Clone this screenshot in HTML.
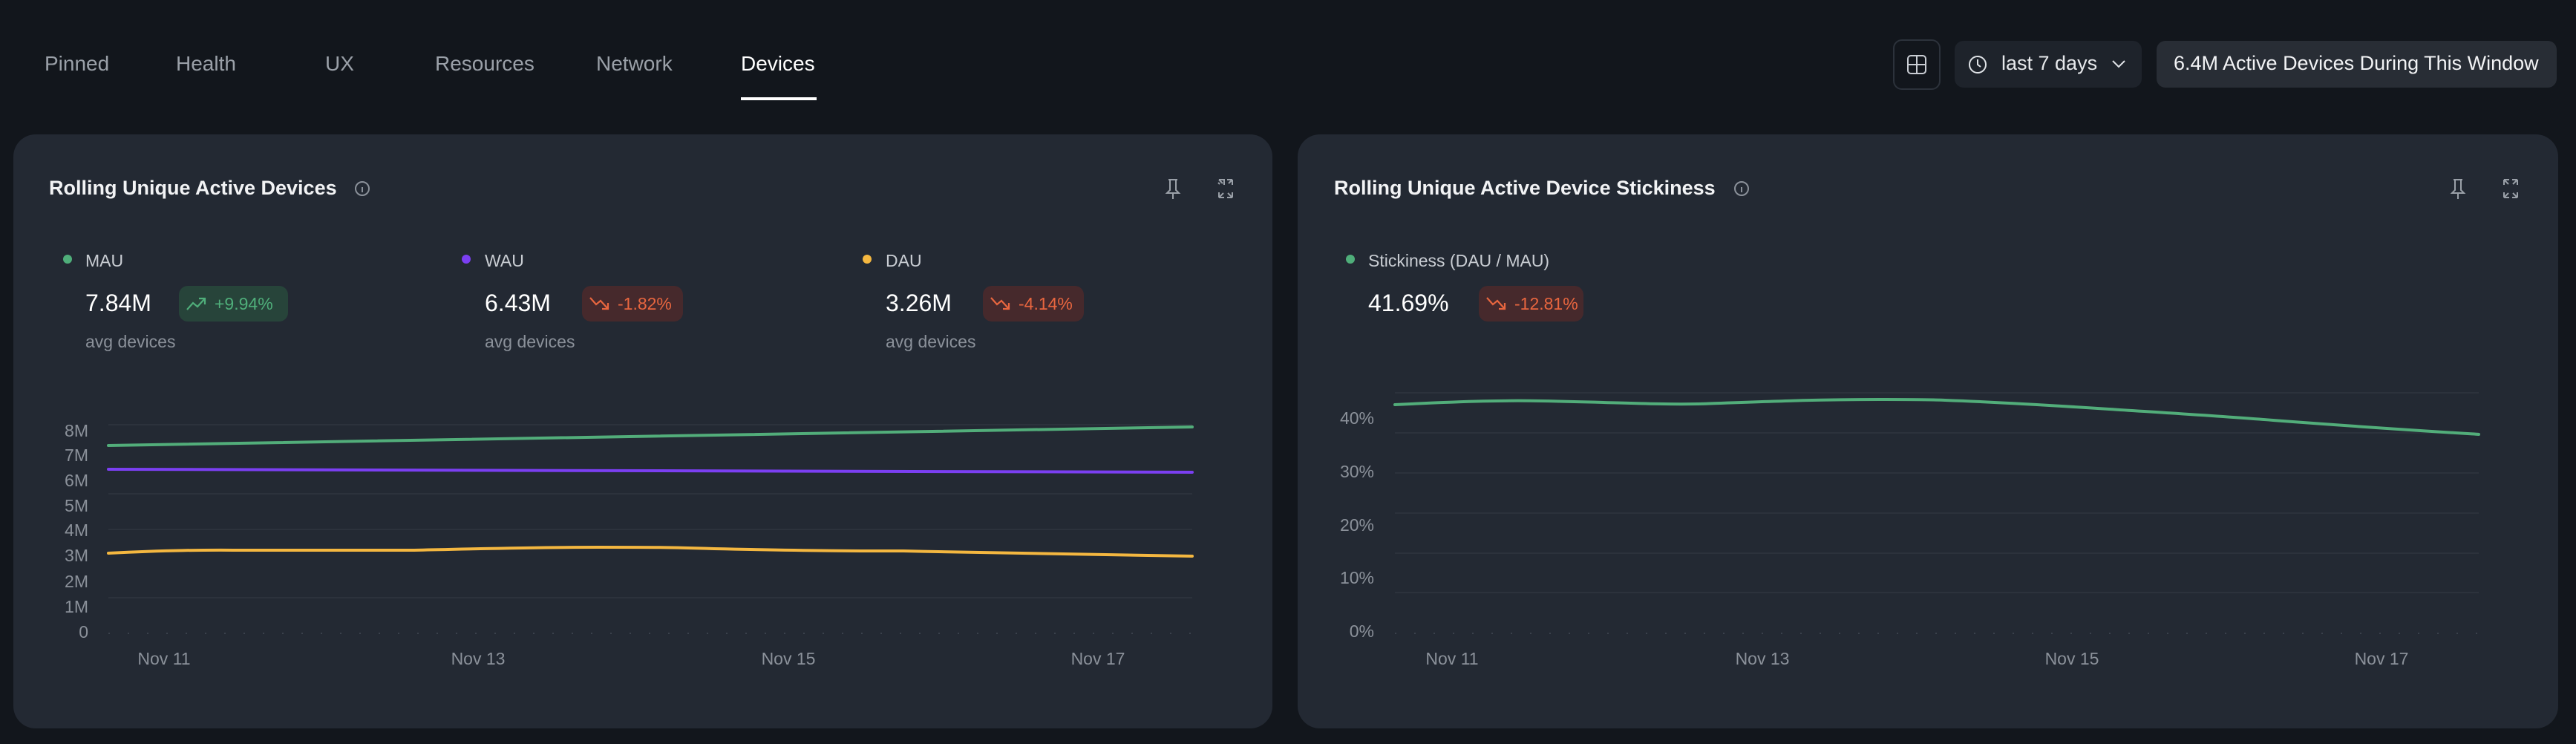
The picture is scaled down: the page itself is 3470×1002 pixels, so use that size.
<!DOCTYPE html>
<html><head><meta charset="utf-8"><style>
*{margin:0;padding:0;box-sizing:border-box}
body{width:3470px;height:1002px;background:#12161c;font-family:"Liberation Sans",sans-serif;position:relative;overflow:hidden;color:#fff}
.a{position:absolute;white-space:nowrap}
.tab{font-size:28px;color:#9aa0a8;top:70px}
.card{position:absolute;top:181px;height:800px;background:#232933;border-radius:30px}
.title{font-size:27px;font-weight:bold;color:#f2f3f5;top:238px}
.lg{font-size:23px;color:#c9cdd3;top:338px}
.dot{position:absolute;width:12px;height:12px;border-radius:50%;top:343px}
.val{font-size:32px;color:#fff;top:390px}
.sub{font-size:23px;color:#8b919a;top:447px}
.badge{position:absolute;top:385px;height:48px;border-radius:12px;font-size:23px;line-height:48px;padding-left:48px}
.g{background:#27443a;color:#4fae7a}
.r{background:#46292c;color:#e8663f}
.btn{position:absolute;border-radius:12px}
</style></head><body>
<div class="a tab" style="left:60px">Pinned</div>
<div class="a tab" style="left:237px">Health</div>
<div class="a tab" style="left:438px">UX</div>
<div class="a tab" style="left:586px">Resources</div>
<div class="a tab" style="left:803px">Network</div>
<div class="a tab" style="left:998px;color:#fff">Devices</div>
<div class="a" style="left:998px;top:131px;width:102px;height:4px;background:#fff"></div>

<div class="btn" style="left:2550px;top:53px;width:64px;height:68px;border:2px solid #2c323b"></div>
<svg class="a" style="left:2568px;top:73px" width="28" height="28"><rect x="2" y="2" width="24" height="24" rx="4" fill="none" stroke="#c9cdd3" stroke-width="2"/><line x1="14" y1="2" x2="14" y2="26" stroke="#c9cdd3" stroke-width="2"/><line x1="2" y1="14" x2="26" y2="14" stroke="#c9cdd3" stroke-width="2"/></svg>
<div class="btn" style="left:2633px;top:55px;width:252px;height:63px;background:#1e232b"></div>
<svg class="a" style="left:2650px;top:73px" width="28" height="28"><circle cx="14" cy="14" r="11" fill="none" stroke="#e0e3e7" stroke-width="2"/><path d="M14 7v7l4 3" fill="none" stroke="#e0e3e7" stroke-width="2"/></svg>
<div class="a" style="left:2696px;top:70px;font-size:27px;color:#e6e8eb">last 7 days</div>
<svg class="a" style="left:2843px;top:78px" width="22" height="16"><path d="M3 4l8 8 8-8" fill="none" stroke="#e0e3e7" stroke-width="2"/></svg>
<div class="btn" style="left:2905px;top:55px;width:539px;height:63px;background:#282d35"></div>
<div class="a" style="left:2928px;top:70px;font-size:27px;color:#f2f3f5">6.4M Active Devices During This Window</div>

<div class="card" style="left:18px;width:1696px"></div>
<div class="card" style="left:1748px;width:1698px"></div>

<div class="a title" style="left:66px">Rolling Unique Active Devices</div>
<div class="a title" style="left:1797px">Rolling Unique Active Device Stickiness</div>
<svg class="a" style="left:477px;top:243px" width="22" height="22"><circle cx="11" cy="11" r="9" fill="none" stroke="#8b919a" stroke-width="2"/><line x1="11" y1="9" x2="11" y2="16" stroke="#8b919a" stroke-width="2"/></svg>
<svg class="a" style="left:2335px;top:243px" width="22" height="22"><circle cx="11" cy="11" r="9" fill="none" stroke="#8b919a" stroke-width="2"/><line x1="11" y1="9" x2="11" y2="16" stroke="#8b919a" stroke-width="2"/></svg>
<svg class="a" style="left:1565px;top:238px" width="110" height="32"><g fill="none" stroke="#9aa0a8" stroke-width="2"><path d="M9 4h12M11 4v14l-4 4h16l-4-4V4M15 22v8"/><path d="M77 4h7v7M78 10l-2-2M77 4l5 5M95 4h-7M90 9l5-5M95 4v7M77 28h7M77 28v-7M77 28l6-6M95 28h-7M95 28v-7M95 28l-6-6"/></g></svg>
<svg class="a" style="left:3296px;top:238px" width="110" height="32"><g fill="none" stroke="#9aa0a8" stroke-width="2"><path d="M9 4h12M11 4v14l-4 4h16l-4-4V4M15 22v8"/><path d="M77 4h7M77 4v7M77 4l6 6M95 4h-7M95 4v7M95 4l-6 6M77 28h7M77 28v-7M77 28l6-6M95 28h-7M95 28v-7M95 28l-6-6"/></g></svg>

<div class="dot" style="left:85px;background:#4fae7a"></div><div class="a lg" style="left:115px">MAU</div>
<div class="dot" style="left:622px;background:#7b3ff2"></div><div class="a lg" style="left:653px">WAU</div>
<div class="dot" style="left:1162px;background:#f4b740"></div><div class="a lg" style="left:1193px">DAU</div>
<div class="dot" style="left:1813px;background:#4fae7a"></div><div class="a lg" style="left:1843px">Stickiness (DAU / MAU)</div>

<div class="a val" style="left:115px">7.84M</div>
<div class="a val" style="left:653px">6.43M</div>
<div class="a val" style="left:1193px">3.26M</div>
<div class="a val" style="left:1843px">41.69%</div>

<div class="badge g" style="left:241px;width:147px">+9.94%</div>
<div class="badge r" style="left:784px;width:136px">-1.82%</div>
<div class="badge r" style="left:1324px;width:136px">-4.14%</div>
<div class="badge r" style="left:1992px;width:141px">-12.81%</div>
<svg class="a" style="left:249px;top:397px" width="30" height="24"><path d="M3 20l8-9 6 5 10-11M19 5h8v8" fill="none" stroke="#4fae7a" stroke-width="2.2"/></svg>
<svg class="a" style="left:792px;top:397px" width="30" height="24"><path d="M3 4l8 9 6-5 10 11M19 19h8v-8" fill="none" stroke="#e8663f" stroke-width="2.2"/></svg>
<svg class="a" style="left:1332px;top:397px" width="30" height="24"><path d="M3 4l8 9 6-5 10 11M19 19h8v-8" fill="none" stroke="#e8663f" stroke-width="2.2"/></svg>
<svg class="a" style="left:2000px;top:397px" width="30" height="24"><path d="M3 4l8 9 6-5 10 11M19 19h8v-8" fill="none" stroke="#e8663f" stroke-width="2.2"/></svg>

<div class="a sub" style="left:115px">avg devices</div>
<div class="a sub" style="left:653px">avg devices</div>
<div class="a sub" style="left:1193px">avg devices</div>

<svg class="a" style="left:0;top:0" width="3470" height="1002" font-family="Liberation Sans, sans-serif" font-size="23" fill="#8b919a">
<g stroke="#2c323c" stroke-width="2">
<line x1="146" y1="572" x2="1606" y2="572"/><line x1="146" y1="665" x2="1606" y2="665"/><line x1="146" y1="713" x2="1606" y2="713"/><line x1="146" y1="805" x2="1606" y2="805"/>
<line x1="1879" y1="529" x2="3339" y2="529"/><line x1="1879" y1="583" x2="3339" y2="583"/><line x1="1879" y1="637" x2="3339" y2="637"/><line x1="1879" y1="691" x2="3339" y2="691"/><line x1="1879" y1="745" x2="3339" y2="745"/><line x1="1879" y1="798" x2="3339" y2="798"/>
</g>
<g stroke="#3a414c" stroke-width="2" stroke-dasharray="2 24">
<line x1="146" y1="853" x2="1606" y2="853"/><line x1="1879" y1="853" x2="3339" y2="853"/>
</g>
<g text-anchor="end">
<text x="119" y="588">8M</text><text x="119" y="621">7M</text><text x="119" y="655">6M</text><text x="119" y="689">5M</text><text x="119" y="722">4M</text><text x="119" y="756">3M</text><text x="119" y="791">2M</text><text x="119" y="825">1M</text><text x="119" y="859">0</text>
<text x="1851" y="571">40%</text><text x="1851" y="643">30%</text><text x="1851" y="715">20%</text><text x="1851" y="786">10%</text><text x="1851" y="858">0%</text>
</g>
<g text-anchor="middle">
<text x="221" y="895">Nov 11</text><text x="644" y="895">Nov 13</text><text x="1062" y="895">Nov 15</text><text x="1479" y="895">Nov 17</text>
<text x="1956" y="895">Nov 11</text><text x="2374" y="895">Nov 13</text><text x="2791" y="895">Nov 15</text><text x="3208" y="895">Nov 17</text>
</g>
<g fill="none" stroke-width="4" stroke-linecap="round" stroke-linejoin="round">
<path d="M146 600 L1606 575" stroke="#52ad7a"/>
<path d="M146 632 C600 635 1100 636 1606 636" stroke="#7b3ff2"/>
<path d="M146 745 C240 740 290 741 332 741 L553 741 C650 739 720 737 807 737 C880 737 900 737 962 739 C1100 742 1150 742 1217 742 C1330 745 1438 746 1606 749" stroke="#f4b740"/>
<path d="M1879 545 C1980 540 2030 539 2078 540 C2180 542 2230 545 2288 544 C2400 540 2450 538 2531 538 C2580 538 2600 538 2620 539 C2700 542 2780 547 2841 551 C2950 558 3000 561 3062 566 C3180 575 3260 580 3339 585" stroke="#52ad7a"/>
</g>
</svg>
</body></html>
